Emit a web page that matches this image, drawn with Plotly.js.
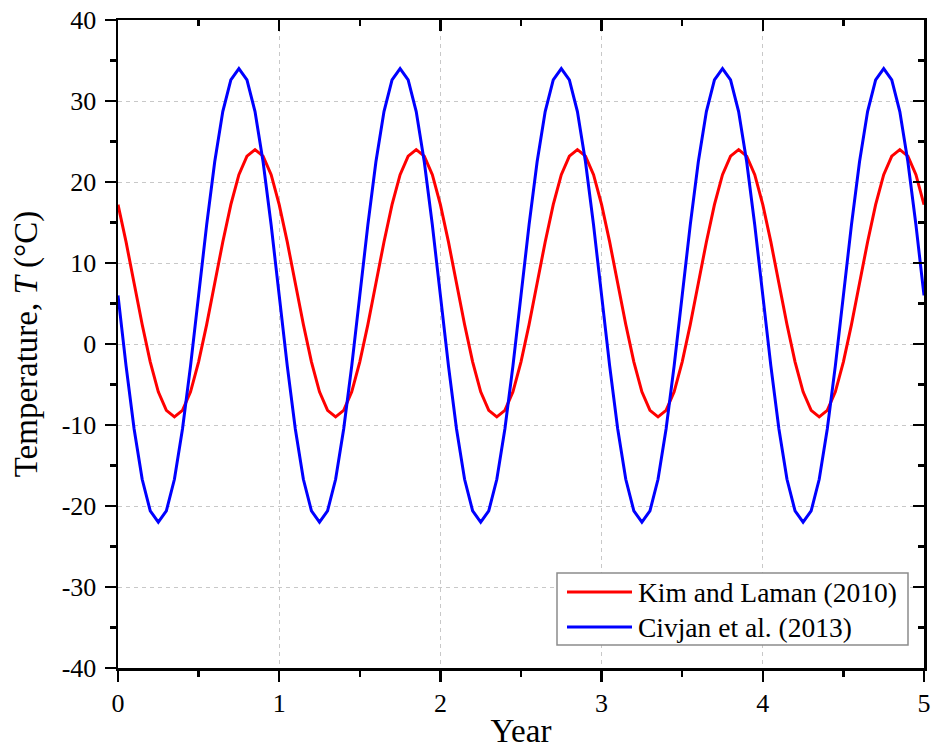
<!DOCTYPE html>
<html>
<head>
<meta charset="utf-8">
<script src="https://cdn.plot.ly/plotly-3.0.1.min.js"></script>
<style>html,body{margin:0;padding:0;background:#fff;}#chart{width:931px;height:749px;}</style>
</head>
<body>
<div id="chart"></div>
<script>
var years = [
  0.00,0.05,0.10,0.15,0.20,0.25,0.30,0.35,0.40,0.45,0.50,0.55,0.60,0.65,0.70,0.75,0.80,0.85,0.90,0.95,
  1.00,1.05,1.10,1.15,1.20,1.25,1.30,1.35,1.40,1.45,1.50,1.55,1.60,1.65,1.70,1.75,1.80,1.85,1.90,1.95,
  2.00,2.05,2.10,2.15,2.20,2.25,2.30,2.35,2.40,2.45,2.50,2.55,2.60,2.65,2.70,2.75,2.80,2.85,2.90,2.95,
  3.00,3.05,3.10,3.15,3.20,3.25,3.30,3.35,3.40,3.45,3.50,3.55,3.60,3.65,3.70,3.75,3.80,3.85,3.90,3.95,
  4.00,4.05,4.10,4.15,4.20,4.25,4.30,4.35,4.40,4.45,4.50,4.55,4.60,4.65,4.70,4.75,4.80,4.85,4.90,4.95,
  5.00
];
var kimLaman = [
  17.2,12.6,7.5,2.4,-2.2,-5.9,-8.2,-9.0,-8.2,-5.9,-2.2,2.4,7.5,12.6,17.2,20.9,23.2,24.0,23.2,20.9,
  17.2,12.6,7.5,2.4,-2.2,-5.9,-8.2,-9.0,-8.2,-5.9,-2.2,2.4,7.5,12.6,17.2,20.9,23.2,24.0,23.2,20.9,
  17.2,12.6,7.5,2.4,-2.2,-5.9,-8.2,-9.0,-8.2,-5.9,-2.2,2.4,7.5,12.6,17.2,20.9,23.2,24.0,23.2,20.9,
  17.2,12.6,7.5,2.4,-2.2,-5.9,-8.2,-9.0,-8.2,-5.9,-2.2,2.4,7.5,12.6,17.2,20.9,23.2,24.0,23.2,20.9,
  17.2,12.6,7.5,2.4,-2.2,-5.9,-8.2,-9.0,-8.2,-5.9,-2.2,2.4,7.5,12.6,17.2,20.9,23.2,24.0,23.2,20.9,
  17.2
];
var civjan = [
  6.0,-2.7,-10.5,-16.7,-20.6,-22.0,-20.6,-16.7,-10.5,-2.7,6.0,14.7,22.5,28.7,32.6,34.0,32.6,28.7,22.5,14.7,
  6.0,-2.7,-10.5,-16.7,-20.6,-22.0,-20.6,-16.7,-10.5,-2.7,6.0,14.7,22.5,28.7,32.6,34.0,32.6,28.7,22.5,14.7,
  6.0,-2.7,-10.5,-16.7,-20.6,-22.0,-20.6,-16.7,-10.5,-2.7,6.0,14.7,22.5,28.7,32.6,34.0,32.6,28.7,22.5,14.7,
  6.0,-2.7,-10.5,-16.7,-20.6,-22.0,-20.6,-16.7,-10.5,-2.7,6.0,14.7,22.5,28.7,32.6,34.0,32.6,28.7,22.5,14.7,
  6.0,-2.7,-10.5,-16.7,-20.6,-22.0,-20.6,-16.7,-10.5,-2.7,6.0,14.7,22.5,28.7,32.6,34.0,32.6,28.7,22.5,14.7,
  6.0
];
var seriesNames = ["Kim and Laman (2010)", "Civjan et al. (2013)"];
var seriesColors = ["#ff0000", "#0000ff"];
var xTickVals = [0,1,2,3,4,5];
var yTickVals = [-40,-30,-20,-10,0,10,20,30,40];

var FONT = "Liberation Serif, Times New Roman, serif";

var traces = [
  {x: years, y: kimLaman, type: "scatter", mode: "lines", name: seriesNames[0],
   line: {color: seriesColors[0], width: 3}, showlegend: false},
  {x: years, y: civjan, type: "scatter", mode: "lines", name: seriesNames[1],
   line: {color: seriesColors[1], width: 3}, showlegend: false},
  {x: [], y: [], xaxis: "x2", yaxis: "y2", type: "scatter", mode: "lines",
   showlegend: false, hoverinfo: "skip"}
];

var L = 118, R = 924, T = 20, B = 668;
var W = R - L, H = B - T;
function px(x){ return (x - L) / W; }
function py(y){ return (B - y) / H; }

var layout = {
  width: 931, height: 749,
  margin: {l: L, r: 931 - R, t: T, b: 749 - B, pad: 0},
  paper_bgcolor: "#ffffff", plot_bgcolor: "#ffffff",
  font: {family: FONT, color: "#000000", size: 26},
  showlegend: false,
  xaxis: {
    range: [0, 5], tickvals: xTickVals, ticktext: xTickVals.map(String),
    ticks: "outside", ticklen: 11, tickwidth: 2.5, tickcolor: "#000",
    showline: true, linecolor: "#000", linewidth: 2.5,
    showgrid: true, gridcolor: "#c8c8c8", gridwidth: 1, griddash: "4px,4px",
    zeroline: false, ticklabelstandoff: -1,
    tickfont: {family: FONT, size: 26, color: "#000"},
    minor: {dtick: 0.5, ticks: "outside", ticklen: 6, tickwidth: 2.5, tickcolor: "#000", showgrid: false},
    title: {text: "Year", font: {family: FONT, size: 33, color: "#000"}, standoff: 4}
  },
  yaxis: {
    range: [-40, 40], tickvals: yTickVals, ticktext: yTickVals.map(String),
    ticks: "outside", ticklen: 11, tickwidth: 2.5, tickcolor: "#000",
    showline: true, linecolor: "#000", linewidth: 2.5,
    showgrid: true, gridcolor: "#c8c8c8", gridwidth: 1, griddash: "4px,4px",
    zeroline: false, ticklabelstandoff: 3,
    tickfont: {family: FONT, size: 26, color: "#000"},
    minor: {dtick: 5, ticks: "outside", ticklen: 6, tickwidth: 2.5, tickcolor: "#000", showgrid: false},
    title: {text: "Temperature, <i>T</i> (°C)", font: {family: FONT, size: 33, color: "#000"}, standoff: 14}
  },
  xaxis2: {
    overlaying: "x", side: "top", anchor: "y2", range: [0, 5], tickvals: xTickVals,
    showticklabels: false, ticks: "inside", ticklen: 11, tickwidth: 2.5, tickcolor: "#000",
    showline: true, linecolor: "#000", linewidth: 2.5, showgrid: false, zeroline: false,
    minor: {dtick: 0.5, ticks: "inside", ticklen: 6, tickwidth: 2.5, tickcolor: "#000", showgrid: false}
  },
  yaxis2: {
    overlaying: "y", side: "right", anchor: "x2", range: [-40, 40], tickvals: yTickVals,
    showticklabels: false, ticks: "inside", ticklen: 11, tickwidth: 2.5, tickcolor: "#000",
    showline: true, linecolor: "#000", linewidth: 2.5, showgrid: false, zeroline: false,
    minor: {dtick: 5, ticks: "inside", ticklen: 6, tickwidth: 2.5, tickcolor: "#000", showgrid: false}
  },
  shapes: [
    {type: "rect", xref: "paper", yref: "paper", x0: px(557), x1: px(908), y0: py(645), y1: py(573),
     line: {color: "#8c8c8c", width: 1.5}, fillcolor: "#ffffff", layer: "above"},
    {type: "line", xref: "paper", yref: "paper", x0: px(567), x1: px(632), y0: py(592), y1: py(592),
     line: {color: seriesColors[0], width: 3}, layer: "above"},
    {type: "line", xref: "paper", yref: "paper", x0: px(567), x1: px(632), y0: py(627), y1: py(627),
     line: {color: seriesColors[1], width: 3}, layer: "above"}
  ],
  annotations: [
    {xref: "paper", yref: "paper", x: px(636), y: py(592), xanchor: "left", yanchor: "middle",
     text: seriesNames[0], showarrow: false, font: {family: FONT, size: 27.5, color: "#000"}},
    {xref: "paper", yref: "paper", x: px(636), y: py(627), xanchor: "left", yanchor: "middle",
     text: seriesNames[1], showarrow: false, font: {family: FONT, size: 27.5, color: "#000"}}
  ]
};

Plotly.newPlot("chart", traces, layout, {displayModeBar: false, staticPlot: true});
</script>
</body>
</html>
